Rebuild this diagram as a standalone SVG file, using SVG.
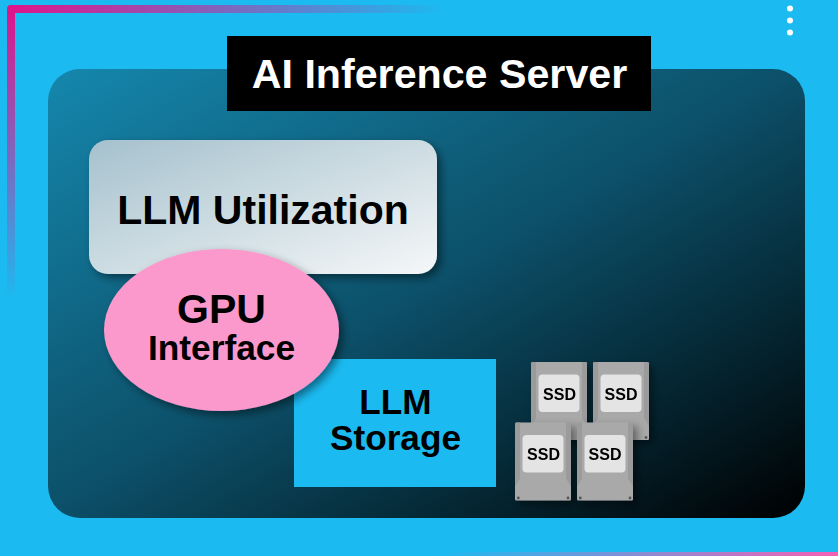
<svg xmlns="http://www.w3.org/2000/svg" xmlns:xlink="http://www.w3.org/1999/xlink" width="838" height="556" viewBox="0 0 838 556">
<style>
text{font-family:"Liberation Sans",Arial,sans-serif;font-weight:700;text-anchor:middle;fill:#000}
.b{fill:#a9a9a9}
.e{fill:#9b9b9b}
.l{fill:#e4e4e4}
.h{fill:#555}
.s{font-size:16px}
</style>
<defs>
<linearGradient id="panel" x1="0" y1="0" x2="1" y2="1">
<stop offset="0" stop-color="#1587ad"/><stop offset=".5" stop-color="#0c4f68"/><stop offset=".75" stop-color="#052835"/><stop offset="1" stop-color="#000"/>
</linearGradient>
<linearGradient id="util" x1="0" y1="0" x2="1" y2="1">
<stop offset="0" stop-color="#a5c1cd"/><stop offset="1" stop-color="#f5f7f8"/>
</linearGradient>
<linearGradient id="top" gradientUnits="userSpaceOnUse" x1="8" y1="0" x2="445" y2="0">
<stop offset="0" stop-color="#e0148b"/><stop offset="1" stop-color="#1bbaf1"/>
</linearGradient>
<linearGradient id="left" gradientUnits="userSpaceOnUse" x1="0" y1="8" x2="0" y2="300">
<stop offset="0" stop-color="#e0148b"/><stop offset="1" stop-color="#1bbaf1"/>
</linearGradient>
<linearGradient id="bottom" gradientUnits="userSpaceOnUse" x1="440" y1="0" x2="838" y2="0">
<stop offset="0" stop-color="#1bbaf1"/><stop offset="1" stop-color="#f55fb5"/>
</linearGradient>
<filter id="sh" x="-15%" y="-15%" width="135%" height="135%"><feDropShadow dx="4" dy="4" stdDeviation="4.500" flood-color="#000" flood-opacity=".45"/></filter>
<g id="ssd">
<rect class="b" width="56" height="78" rx="1.500"/>
<path class="e" d="M0 1.500Q0 0 1.500 0H5V56L0 64ZM56 1.500Q56 0 54.500 0H51V56L56 64Z"/>
<rect class="l" x="7.500" y="12.500" width="41" height="37.500" rx="4"/>
<circle class="h" cx="3.300" cy="75.500" r="1.400"/>
<circle class="h" cx="53" cy="75.500" r="1.400"/>
</g>
</defs>
<rect width="838" height="556" fill="#1bbaf1"/>
<g id="frame">
<path d="M445 5H10.500Q7 5 7 9V13H445Z" fill="url(#top)"/>
<path d="M7 13H15V300H7Z" fill="url(#left)"/>
<rect x="440" y="552" width="398" height="4" fill="url(#bottom)"/>
</g>
<g id="dots" fill="#fff"><circle cx="790" cy="8.500" r="3"/><circle cx="790" cy="20.500" r="3"/><circle cx="790" cy="32.500" r="3"/></g>
<g id="server-panel"><rect x="48" y="69" width="757" height="449" rx="32" fill="url(#panel)"/></g>
<g id="title"><rect x="227" y="36" width="424" height="75" fill="#000"/><text x="439.500" y="88" font-size="41.200" style="fill:#fff">AI Inference Server</text></g>
<g id="llm-utilization"><rect x="89" y="140" width="348" height="134" rx="19" fill="url(#util)" filter="url(#sh)"/><text x="263" y="224" font-size="41">LLM Utilization</text></g>
<g id="llm-storage"><rect x="294" y="359" width="202" height="128" fill="#1bbaf1"/><text font-size="35.200"><tspan x="395.500" y="414">LLM</tspan><tspan x="395.500" y="450">Storage</tspan></text></g>
<g id="gpu-interface"><ellipse cx="221.500" cy="330" rx="117.500" ry="81" fill="#fb99cc" filter="url(#sh)"/><text font-size="35.300"><tspan x="221.500" y="323" font-size="41">GPU</tspan><tspan x="221.500" y="360">Interface</tspan></text></g>
<g id="ssd-1" filter="url(#sh)"><use xlink:href="#ssd" href="#ssd" x="531" y="362"/><text class="s" x="559.500" y="400">SSD</text></g>
<g id="ssd-2" filter="url(#sh)"><use xlink:href="#ssd" href="#ssd" x="593" y="362"/><text class="s" x="621" y="400">SSD</text></g>
<g id="ssd-3" filter="url(#sh)"><use xlink:href="#ssd" href="#ssd" x="515" y="422.500"/><text class="s" x="543.500" y="460">SSD</text></g>
<g id="ssd-4" filter="url(#sh)"><use xlink:href="#ssd" href="#ssd" x="577" y="422.500"/><text class="s" x="605" y="460">SSD</text></g>
<g id="connectors"/>
</svg>
